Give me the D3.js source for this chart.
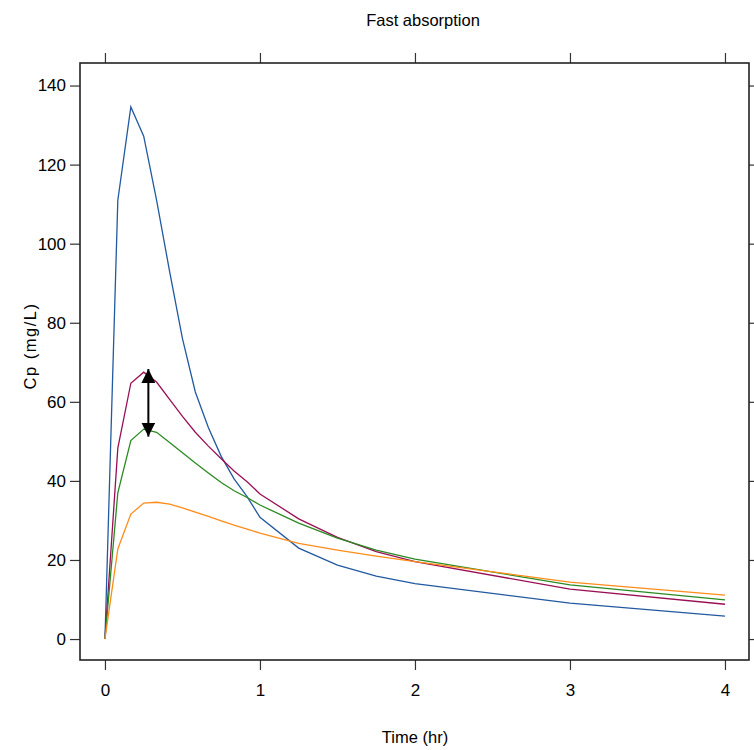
<!DOCTYPE html>
<meta charset="utf-8">
<style>
body { margin: 0; background: #fff; }
text { font-family: "Liberation Sans", Arial, sans-serif; fill: #000; }
</style>
<svg id="mysvg" width="754" height="750"></svg>
<script src="https://cdn.jsdelivr.net/npm/d3@7/dist/d3.min.js"></script>
<script>

var svg = d3.select("#mysvg");

// sampling times (hr)
var times = [0, 0.083, 0.167, 0.25, 0.333, 0.417, 0.5, 0.583, 0.667, 0.75, 0.833, 0.917, 1, 1.25, 1.5, 1.75, 2, 3, 4];

// concentration curves (mg/L)
var cpBlue   = [0, 111, 134.6, 127.2, 111, 93, 76, 62.5, 53.5, 46.2, 40.5, 36, 30.8, 23, 18.7, 15.9, 14, 9.1, 5.8];
var cpPurple = [0, 48.3, 64.7, 67.5, 65, 60.6, 56.3, 52.3, 48.8, 45.6, 42.5, 39.8, 36.7, 30.4, 25.7, 22.1, 19.6, 12.6, 8.8];
var cpGreen  = [0, 37, 50.2, 53.1, 52.3, 49.7, 47.1, 44.5, 42, 39.6, 37.5, 35.8, 33.9, 29.3, 25.5, 22.5, 20.2, 13.7, 9.9];
var cpOrange = [0, 22.8, 31.6, 34.4, 34.6, 34.1, 33.2, 32.1, 31, 29.9, 28.8, 27.8, 26.8, 24.2, 22.5, 21, 19.6, 14.4, 11.1];

var seriesColors = ["#2259a0", "#990f55", "#2a8a22", "#ff8c1a"];
var series = [cpBlue, cpPurple, cpGreen, cpOrange];

// arrow marking the difference between two peaks
var arrowTime = 0.28;
var arrowFrom = 68.3;
var arrowTo = 51.2;

var xTicks = [0, 1, 2, 3, 4];
var yTicks = [0, 20, 40, 60, 80, 100, 120, 140];

var pLeft = 80, pRight = 749, pTop = 63, pBottom = 660;

var x = d3.scaleLinear().domain([-0.161, 4.155]).range([pLeft, pRight]);
var y = d3.scaleLinear().domain([-5.3, 145.7]).range([pBottom, pTop]);

// ticks on all four sides, labels on bottom and left
var axB = svg.append("g").attr("transform", "translate(0," + pBottom + ")")
	.call(d3.axisBottom(x).tickValues(xTicks).tickSize(10).tickPadding(14).tickFormat(d3.format("d")));
var axT = svg.append("g").attr("transform", "translate(0," + pTop + ")")
	.call(d3.axisTop(x).tickValues(xTicks).tickSize(10).tickFormat(""));
var axL = svg.append("g").attr("transform", "translate(" + pLeft + ",0)")
	.call(d3.axisLeft(y).tickValues(yTicks).tickSize(10).tickPadding(4));
var axR = svg.append("g").attr("transform", "translate(" + pRight + ",0)")
	.call(d3.axisRight(y).tickValues(yTicks).tickSize(10).tickFormat(""));

[axB, axT, axL, axR].forEach(function(a){
	a.select(".domain").remove();
	a.selectAll("line").attr("stroke", "#333").attr("stroke-width", 1.2);
	a.selectAll("text").style("font-size", "17px").attr("fill", "#000")
		.style("font-family", "'Liberation Sans', Arial, sans-serif");
});

svg.append("rect")
	.attr("x", pLeft).attr("y", pTop)
	.attr("width", pRight - pLeft).attr("height", pBottom - pTop)
	.attr("fill", "none").attr("stroke", "#222").attr("stroke-width", 1.6);

var line = d3.line()
	.x(function(d, i){ return x(times[i]); })
	.y(function(d){ return y(d); });

svg.selectAll("path.curve")
	.data(series)
	.enter().append("path")
	.attr("class", "curve")
	.attr("d", line)
	.attr("fill", "none")
	.attr("stroke", function(d, i){ return seriesColors[i]; })
	.attr("stroke-width", 1.3);

// double-headed arrow
var defs = svg.append("defs");
defs.append("marker")
	.attr("id", "head")
	.attr("viewBox", "0 0 10 10")
	.attr("refX", 10).attr("refY", 5)
	.attr("markerWidth", 14).attr("markerHeight", 14)
	.attr("markerUnits", "userSpaceOnUse")
	.attr("orient", "auto-start-reverse")
	.append("path")
	.attr("d", "M0,0L10,5L0,10Z")
	.attr("fill", "#000");

svg.append("line")
	.attr("x1", x(arrowTime)).attr("x2", x(arrowTime))
	.attr("y1", y(arrowTo)).attr("y2", y(arrowFrom))
	.attr("stroke", "#000").attr("stroke-width", 2)
	.attr("marker-start", "url(#head)")
	.attr("marker-end", "url(#head)");

svg.append("text")
	.attr("x", 423).attr("y", 26)
	.attr("text-anchor", "middle")
	.style("font-size", "16.5px")
	.text("Fast absorption");

svg.append("text")
	.attr("x", 415).attr("y", 743)
	.attr("text-anchor", "middle")
	.style("font-size", "16.5px")
	.text("Time (hr)");

svg.append("text")
	.attr("transform", "translate(36,346) rotate(-90)")
	.attr("text-anchor", "middle")
	.style("font-size", "16.5px")
	.style("letter-spacing", "1.5px")
	.text("Cp (mg/L)");

</script>
